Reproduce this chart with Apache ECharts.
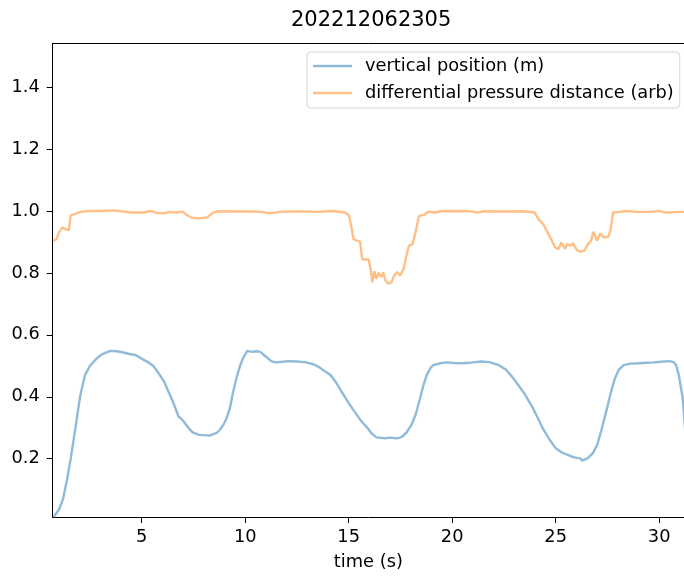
<!DOCTYPE html>
<html>
<head>
<meta charset="utf-8">
<script src="https://cdn.jsdelivr.net/npm/echarts@6/dist/echarts.min.js"></script>
<style>html,body{margin:0;padding:0;background:#fff}#c{width:684px;height:576px}</style>
</head>
<body>
<div id="c"></div>
<script>
const chartTitle = '202212062305';
const seriesNames = ['vertical position (m)', 'differential pressure distance (arb)'];
const xTicks = [5, 10, 15, 20, 25, 30];
const yTicks = [0.2, 0.4, 0.6, 0.8, 1.0, 1.2, 1.4];

const posTime = [0.75,1.0,1.2,1.4,1.57,1.8,2.02,2.26,2.5,2.83,3.1,3.47,3.8,4.11,4.4,4.7,5.08,5.3,5.55,5.8,6.08,6.3,6.51,6.78,6.9,7.03,7.25,7.46,7.77,8.0,8.3,8.62,8.8,8.94,9.1,9.26,9.4,9.57,9.75,9.89,10.1,10.31,10.55,10.73,10.9,11.05,11.25,11.47,11.8,12.1,12.5,12.95,13.3,13.59,13.85,14.12,14.4,14.65,14.95,15.28,15.6,15.91,16.1,16.34,16.76,17.0,17.18,17.4,17.6,17.8,18.03,18.25,18.45,18.6,18.77,18.95,19.09,19.4,19.72,20.1,20.56,21.0,21.41,21.8,22.26,22.6,22.89,23.2,23.53,23.9,24.15,24.37,24.7,25.0,25.3,25.64,25.85,26.06,26.2,26.27,26.4,26.59,26.8,27.01,27.2,27.44,27.65,27.86,28.05,28.28,28.6,29.03,29.4,29.76,30.1,30.5,30.7,30.82,30.95,31.05,31.14,31.25,31.4];
const posValue = [0.012,0.035,0.07,0.135,0.2,0.3,0.4,0.47,0.5,0.524,0.538,0.548,0.547,0.543,0.538,0.535,0.52,0.512,0.5,0.478,0.449,0.415,0.384,0.336,0.33,0.32,0.3,0.285,0.277,0.276,0.275,0.283,0.295,0.309,0.33,0.363,0.41,0.459,0.5,0.524,0.548,0.545,0.547,0.545,0.535,0.527,0.515,0.511,0.513,0.515,0.514,0.511,0.505,0.495,0.482,0.47,0.445,0.417,0.385,0.352,0.322,0.299,0.282,0.269,0.266,0.268,0.267,0.266,0.272,0.285,0.309,0.345,0.395,0.435,0.47,0.493,0.502,0.508,0.511,0.509,0.508,0.511,0.514,0.512,0.502,0.487,0.465,0.437,0.406,0.363,0.33,0.299,0.262,0.234,0.22,0.211,0.205,0.202,0.201,0.194,0.197,0.204,0.218,0.245,0.29,0.352,0.41,0.459,0.487,0.502,0.507,0.508,0.51,0.511,0.513,0.515,0.512,0.502,0.47,0.43,0.395,0.3,0.25];

const dpTime = [0.72,0.89,1.0,1.17,1.31,1.48,1.55,1.57,1.84,2.1,2.37,3.0,3.63,3.9,4.16,4.48,5.11,5.35,5.53,5.7,6.16,6.3,6.48,6.69,6.97,7.2,7.43,7.74,8.16,8.35,8.48,8.7,9.75,10.5,10.8,11.12,11.4,11.64,12.3,12.91,13.54,14.0,14.28,14.81,15.01,15.12,15.23,15.4,15.55,15.65,15.75,15.97,16.07,16.14,16.24,16.33,16.45,16.56,16.67,16.77,16.92,17.07,17.19,17.34,17.49,17.66,17.76,17.91,18.08,18.23,18.39,18.65,18.85,19.17,19.45,20.5,21.0,21.23,21.55,22.5,23.45,23.98,24.18,24.4,24.61,24.82,24.97,25.14,25.28,25.45,25.56,25.72,25.83,26.02,26.19,26.4,26.56,26.71,26.82,26.99,27.15,27.35,27.55,27.66,27.77,28.08,28.4,28.93,29.56,29.98,30.3,31.2,31.5];
const dpValue = [0.904,0.909,0.931,0.947,0.941,0.938,0.94,0.986,0.992,0.997,1.0,1.0,1.002,1.0,0.998,0.995,0.995,0.999,0.999,0.993,0.993,0.997,0.996,0.995,0.998,0.986,0.978,0.976,0.979,0.99,0.995,0.999,0.998,0.998,0.997,0.993,0.994,0.997,0.998,0.998,0.997,0.999,1.0,0.995,0.986,0.952,0.909,0.904,0.901,0.845,0.843,0.843,0.808,0.77,0.805,0.781,0.801,0.787,0.801,0.776,0.765,0.77,0.79,0.803,0.792,0.814,0.848,0.888,0.892,0.931,0.983,0.988,0.998,0.995,0.999,1.0,0.998,0.995,0.999,0.998,0.999,0.995,0.973,0.957,0.931,0.904,0.882,0.877,0.898,0.877,0.893,0.888,0.896,0.874,0.868,0.873,0.893,0.904,0.933,0.904,0.927,0.914,0.917,0.941,0.995,0.997,1.0,0.997,0.997,1.0,0.995,0.997,0.997];

const FONT = 'DejaVu Sans';
const X_MIN = 0.7, X_MAX = 31.2;
const pair = (t, v) => t.map((x, i) => [x, v[i]]);

const chart = echarts.init(document.getElementById('c'), null, {renderer: 'canvas'});
chart.setOption({
  animation: false,
  backgroundColor: '#ffffff',
  title: {
    text: chartTitle, left: 291, top: 10, padding: 0,
    textStyle: {fontFamily: FONT, fontSize: 21, fontWeight: 'normal', color: '#000'}
  },
  legend: {
    orient: 'vertical', left: 307, top: 52,
    icon: 'rect', itemWidth: 39, itemHeight: 2.5, itemGap: 7,
    padding: [4, 6, 5, 6],
    backgroundColor: '#ffffff', borderColor: '#d6d6d6', borderWidth: 1, borderRadius: 4,
    textStyle: {fontFamily: FONT, fontSize: 17.8, color: '#000', lineHeight: 20, padding: [0, 0, 0, 8]},
    data: seriesNames
  },
  grid: {left: 52.7, top: 43.3, right: 0, height: 476, show: false},
  xAxis: [{
    type: 'value', min: X_MIN, max: X_MAX,
    name: 'time (s)', nameLocation: 'middle', nameGap: 36,
    nameTextStyle: {fontFamily: FONT, fontSize: 17.8, color: '#000'},
    axisLine: {show: true, lineStyle: {color: '#000', width: 1}},
    axisTick: {show: true, length: 6, lineStyle: {color: '#000'}, customValues: xTicks},
    axisLabel: {fontFamily: FONT, fontSize: 17.8, color: '#000', margin: 11, customValues: xTicks, formatter: v => String(v)},
    splitLine: {show: false}
  }, {
    type: 'value', position: 'top', min: X_MIN, max: X_MAX,
    axisLine: {show: true, onZero: false, lineStyle: {color: '#000', width: 1}},
    axisTick: {show: false}, axisLabel: {show: false}, splitLine: {show: false}
  }],
  yAxis: {
    type: 'value', min: 0.0117, max: 1.5414,
    axisLine: {show: true, lineStyle: {color: '#000', width: 1}},
    axisTick: {show: true, length: 6, lineStyle: {color: '#000'}, customValues: yTicks},
    axisLabel: {fontFamily: FONT, fontSize: 17.8, color: '#000', margin: 13, customValues: yTicks, formatter: v => Number(v).toFixed(1)},
    splitLine: {show: false}
  },
  series: [
    {name: seriesNames[0], type: 'line', xAxisIndex: 0, data: pair(posTime, posValue), showSymbol: false, symbol: 'none',
     lineStyle: {color: '#8fbbd9', width: 2.4}, itemStyle: {color: '#8fbbd9'}},
    {name: seriesNames[1], type: 'line', xAxisIndex: 0, data: pair(dpTime, dpValue), showSymbol: false, symbol: 'none',
     lineStyle: {color: '#ffbf86', width: 2.4}, itemStyle: {color: '#ffbf86'}}
  ]
});
</script>
</body>
</html>
